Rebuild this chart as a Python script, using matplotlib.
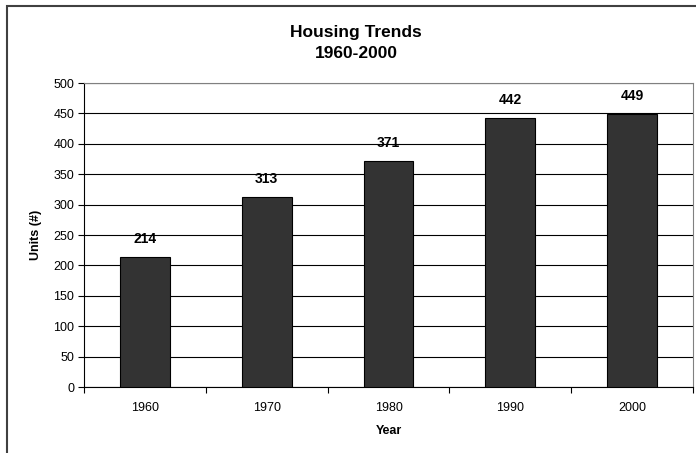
import matplotlib
matplotlib.use("Agg")
import matplotlib.pyplot as plt
from matplotlib.patches import Rectangle
import numpy as np

years = ["1960", "1970", "1980", "1990", "2000"]
units = [214, 313, 371, 442, 449]
yticks = [0, 50, 100, 150, 200, 250, 300, 350, 400, 450, 500]

plt.rcParams['font.family'] = ['Liberation Sans', 'DejaVu Sans']

W, H = 696, 453
fig = plt.figure(figsize=(W/100, H/100), dpi=100)
ax = fig.add_axes([84/W, 1-387/H, (693-84)/W, (387-83)/H])

x = np.arange(len(years))
ax.bar(x, units, width=0.41, color="#333333", edgecolor="black", linewidth=0.8, zorder=3)
for xi, v in zip(x, units):
    ax.annotate(str(v), (xi, v), xytext=(0, 8), textcoords="offset points",
                ha="center", va="bottom", fontsize=10, fontweight="bold")

ax.set_xlim(-0.5, len(years)-0.5)
ax.set_ylim(0, 500)
ax.set_yticks(yticks)
ax.set_yticklabels([str(t) for t in yticks], fontsize=9)
ax.set_xticks(x)
ax.set_xticklabels(years, fontsize=9)
ax.set_xticks(np.arange(-0.5, len(years)), minor=True)
ax.tick_params(axis="x", which="major", length=0, pad=11)
ax.tick_params(axis="x", which="minor", length=4, direction="out", width=0.8)
ax.tick_params(axis="y", length=4, direction="out", width=0.8, pad=3)
ax.yaxis.grid(True, color="black", linewidth=0.8, zorder=0)
ax.set_axisbelow(True)
for s in ["left", "bottom"]:
    ax.spines[s].set_color("black")
    ax.spines[s].set_linewidth(0.8)
for s in ["top", "right"]:
    ax.spines[s].set_color("#808080")
    ax.spines[s].set_linewidth(0.8)

ax.set_xlabel("Year", fontsize=9, fontweight="bold", labelpad=8)
ax.set_ylabel("Units (#)", fontsize=9, fontweight="bold", labelpad=8)

fig.text(356/W, 1-32/H, "Housing Trends", ha="center", va="center", fontsize=12.5, fontweight="bold")
fig.text(356/W, 1-53/H, "1960-2000", ha="center", va="center", fontsize=12.5, fontweight="bold")

border = Rectangle((7/W, -0.1), 1.2, 1-6/H+0.1, transform=fig.transFigure,
                   fill=False, edgecolor="#404040", linewidth=1.5, clip_on=False)
fig.patches.append(border)

fig.savefig("out.png", dpi=100)
